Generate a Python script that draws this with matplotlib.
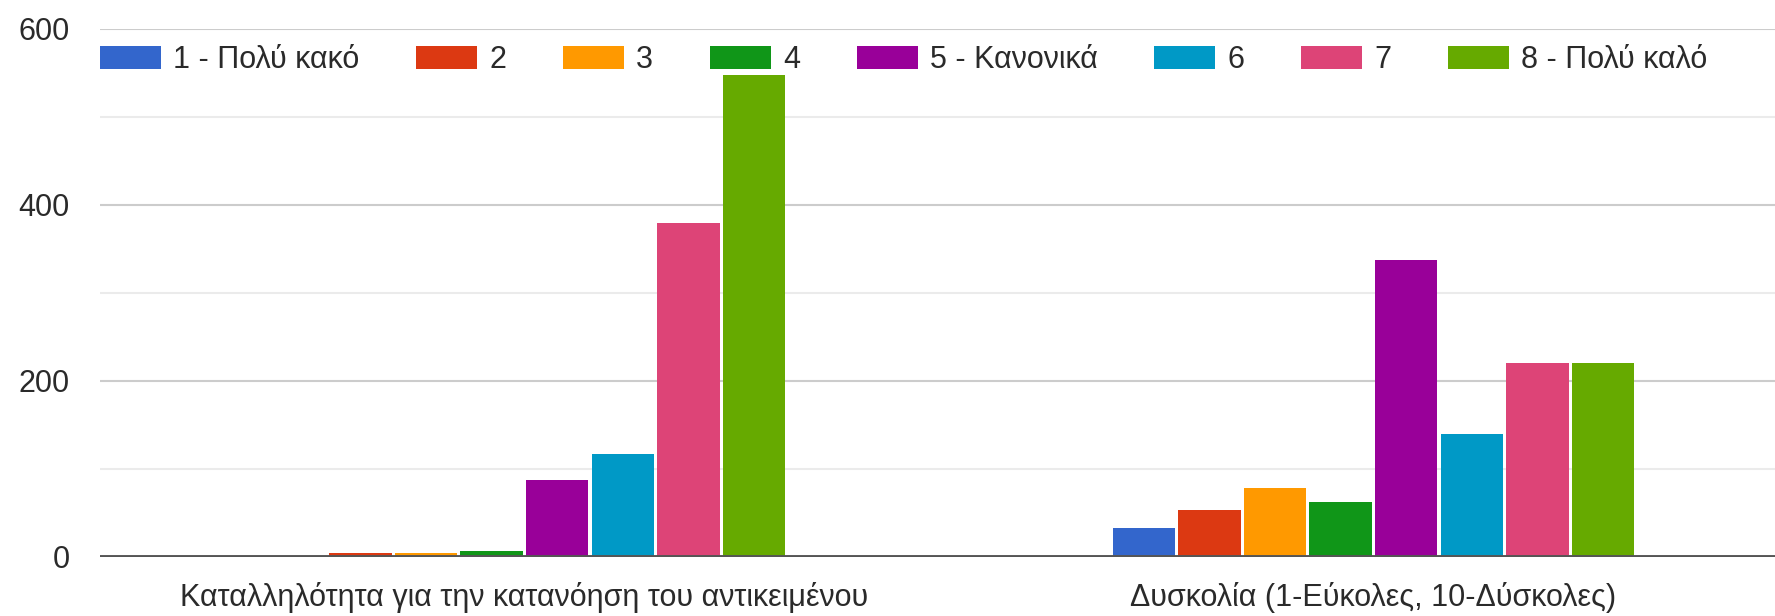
import numpy as np
import matplotlib
matplotlib.use('Agg')
import matplotlib.pyplot as plt

plt.rcParams['font.family'] = ['Liberation Sans', 'DejaVu Sans']

categories = ['Καταλληλότητα για την κατανόηση του αντικειμένου',
              'Δυσκολία (1-Εύκολες, 10-Δύσκολες)']
series_names = ['1 - Πολύ κακό', '2', '3', '4', '5 - Κανονικά', '6', '7', '8 - Πολύ καλό']
values_cat1 = [0, 4, 4, 7, 88, 117, 380, 548]
values_cat2 = [33, 53, 78, 62, 337, 140, 220, 220]
colors = ['#3366cc', '#dc3912', '#ff9900', '#109618',
          '#990099', '#0099c6', '#dd4477', '#66aa00']
yticks = [0, 200, 400, 600]

fig = plt.figure(figsize=(17.75, 6.16), dpi=100)
ax = fig.add_axes([100 / 1775, 1 - 557 / 616, 1 - 100 / 1775, (557 - 29) / 616])

x = np.arange(len(categories))
step = 0.0773
n = len(series_names)
for i, name in enumerate(series_names):
    vals = [values_cat1[i], values_cat2[i]]
    ax.bar(x + (i - (n - 1) / 2) * step, vals, width=step * 0.95,
           color=colors[i], label=name, zorder=3)

ax.set_xlim(-0.5, 1.473)
ax.set_ylim(0, 600)
ax.set_yticks(yticks)
ax.set_yticks([100, 300, 500], minor=True)
ax.grid(axis='y', which='major', color='#cccccc', linewidth=1.5, zorder=0)
ax.grid(axis='y', which='minor', color='#ebebeb', linewidth=1.5, zorder=0)
ax.axhline(0, color='#555555', linewidth=2.8, zorder=4)
ax.set_xticks(x)
ax.set_xticklabels(categories)
ax.tick_params(axis='both', which='both', length=0, labelsize=22, labelcolor='#2a2a2a')
ax.tick_params(axis='y', pad=22)
ax.tick_params(axis='x', pad=18)
for s in ax.spines.values():
    s.set_visible(False)

leg = fig.legend(loc='center left', bbox_to_anchor=(100 / 1775, 1 - 60 / 616),
                 ncol=8, frameon=False, fontsize=22, handlelength=2.0,
                 handleheight=0.8, handletextpad=0.4, columnspacing=1.85,
                 borderaxespad=0, borderpad=0)
for t in leg.get_texts():
    t.set_color('#2a2a2a')

fig.savefig('out.png', dpi=100)
